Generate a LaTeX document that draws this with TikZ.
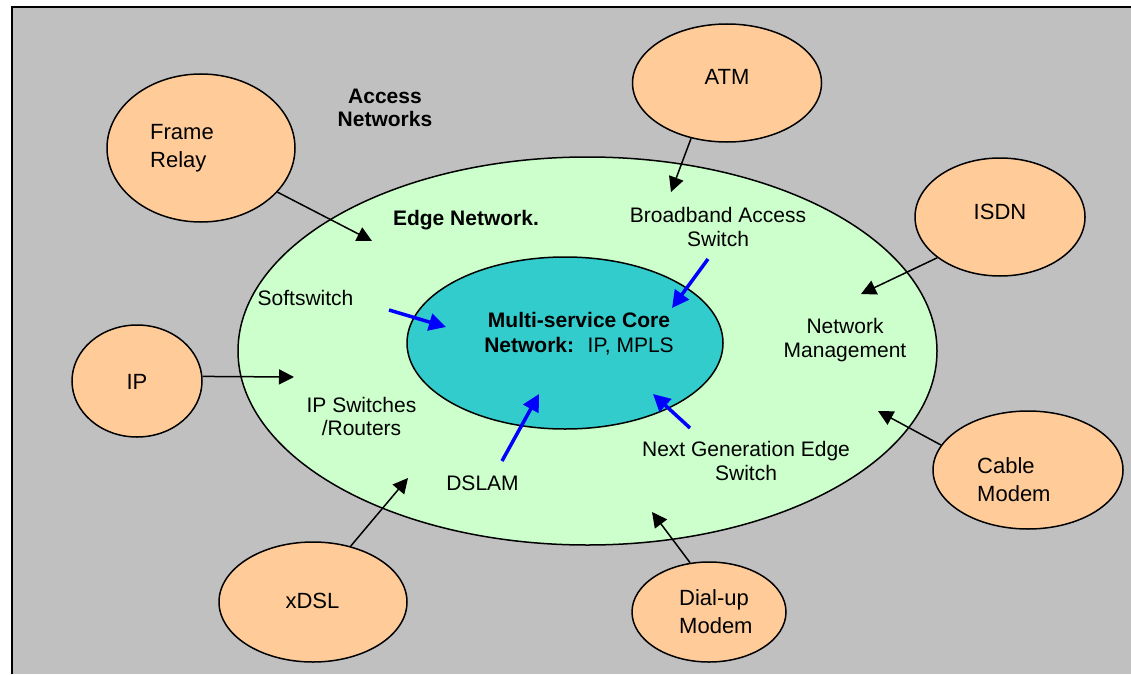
\documentclass[tikz,border=0pt]{standalone}
\usepackage{fontspec}
\setmainfont{Liberation Sans}
\usetikzlibrary{shapes.geometric,arrows.meta}
\definecolor{bggrey}{HTML}{C0C0C0}
\definecolor{edgegreen}{HTML}{CCFFCC}
\definecolor{coreteal}{HTML}{33CCCC}
\definecolor{peach}{HTML}{FFCC99}
\definecolor{arrowblue}{HTML}{0000FF}
\begin{document}
\begin{tikzpicture}[x=1pt,y=-1pt,
  access/.style={ellipse, draw, line width=1.5pt, fill=peach, inner sep=0pt},
  outerlbl/.style={font=\fontsize{22}{28}\selectfont, inner sep=0pt},
  innerlbl/.style={font=\fontsize{21}{24}\selectfont, inner sep=0pt, align=center, anchor=base},
  blackarrow/.style={-{Triangle[length=15pt,width=15pt]}, line width=1.5pt},
  bluearrow/.style={-{Triangle[length=17pt,width=17pt]}, line width=3.5pt, draw=arrowblue}]
\useasboundingbox (0,0) rectangle (1131,674);
\fill[white] (0,0) rectangle (1131,674);
\fill[bggrey] (12,7) rectangle (1131,674);
\draw[line width=2pt] (12,674) -- (12,7) -- (1131,7);

% edge and core networks
\node[ellipse, draw, line width=1.5pt, fill=edgegreen, minimum width=699pt, minimum height=388pt, inner sep=0pt] (edge) at (587.5,351) {};
\node[ellipse, draw, line width=1.5pt, fill=coreteal, minimum width=316pt, minimum height=172pt, inner sep=0pt] (core) at (565,343) {};

% access network ellipses
\node[access, minimum width=188pt, minimum height=148pt] (fr) at (201,148) {};
\node[access, minimum width=189pt, minimum height=118pt] (atm) at (727,83) {};
\node[access, minimum width=170pt, minimum height=118pt] (isdn) at (1000,217) {};
\node[access, minimum width=130pt, minimum height=112pt] (ip) at (137,381) {};
\node[access, minimum width=190pt, minimum height=118pt] (cable) at (1028,470) {};
\node[access, minimum width=188pt, minimum height=120pt] (xdsl) at (313,602) {};
\node[access, minimum width=154pt, minimum height=100pt] (dial) at (709,612) {};

% access labels (base = baseline of the last line)
\node[outerlbl, align=left, anchor=base west] (frl) at (150,167) {Frame\\Relay};
\node[outerlbl, anchor=base] (atml) at (727,85) {ATM};
\node[outerlbl, anchor=base] (isdnl) at (1000,219) {ISDN};
\node[outerlbl, anchor=base] (ipl) at (137,389) {IP};
\node[outerlbl, align=left, anchor=base west] (cablel) at (977,501) {Cable\\Modem};
\node[outerlbl, anchor=base] (xdsll) at (312.5,608) {xDSL};
\node[outerlbl, align=left, anchor=base west] (diall) at (679,633) {Dial-up\\Modem};

% titles
\node[innerlbl, font=\fontsize{21}{23}\selectfont\bfseries] (accessl) at (385,127) {Access\\Networks};
\node[innerlbl, font=\fontsize{21}{24}\selectfont\bfseries] (edgel) at (466,225) {Edge Network.};

% inner labels
\node[innerlbl] (basl) at (718,246) {Broadband Access\\Switch};
\node[innerlbl] (softl) at (305.5,305) {Softswitch};
\node[innerlbl, font=\fontsize{21}{25}\selectfont] (corel) at (579,352) {\textbf{Multi-service Core}\\\textbf{Network:}~ IP, MPLS};
\node[innerlbl] (nml) at (845,357) {Network\\Management};
\node[innerlbl, font=\fontsize{21}{23}\selectfont] (ipsl) at (361.5,435) {IP Switches\\/Routers};
\node[innerlbl] (dslaml) at (482.5,490) {DSLAM};
\node[innerlbl] (ngesl) at (746,480) {Next Generation Edge\\Switch};

% arrow targets
\coordinate (frT) at (372,241);
\coordinate (atmT) at (671,192);
\coordinate (isdnT) at (861,294);
\coordinate (ipT) at (294,377);
\coordinate (cableT) at (878,411);
\coordinate (xdslT) at (408,478);
\coordinate (dialT) at (652,512);

\draw[blackarrow] (fr.-30) -- (frT);
\draw[blackarrow] (atm.-123) -- (atmT);
\draw[blackarrow] (isdn.-147) -- (isdnT);
\draw[blackarrow] (ip.4) -- (ipT);
\draw[blackarrow] (cable.164) -- (cableT);
\draw[blackarrow] (xdsl.56) -- (xdslT);
\draw[blackarrow] (dial.111) -- (dialT);

% blue arrows into the core
\coordinate (softS) at (389,310);
\coordinate (softT) at (446,327);
\coordinate (basS) at (708,259);
\coordinate (basT) at (672,308);
\coordinate (dslamS) at (502,461);
\coordinate (dslamT) at (539,394);
\coordinate (ngesS) at (690,428);
\coordinate (ngesT) at (653,394);
\draw[bluearrow] (softS) -- (softT);
\draw[bluearrow] (basS) -- (basT);
\draw[bluearrow] (dslamS) -- (dslamT);
\draw[bluearrow] (ngesS) -- (ngesT);
\end{tikzpicture}
\end{document}
